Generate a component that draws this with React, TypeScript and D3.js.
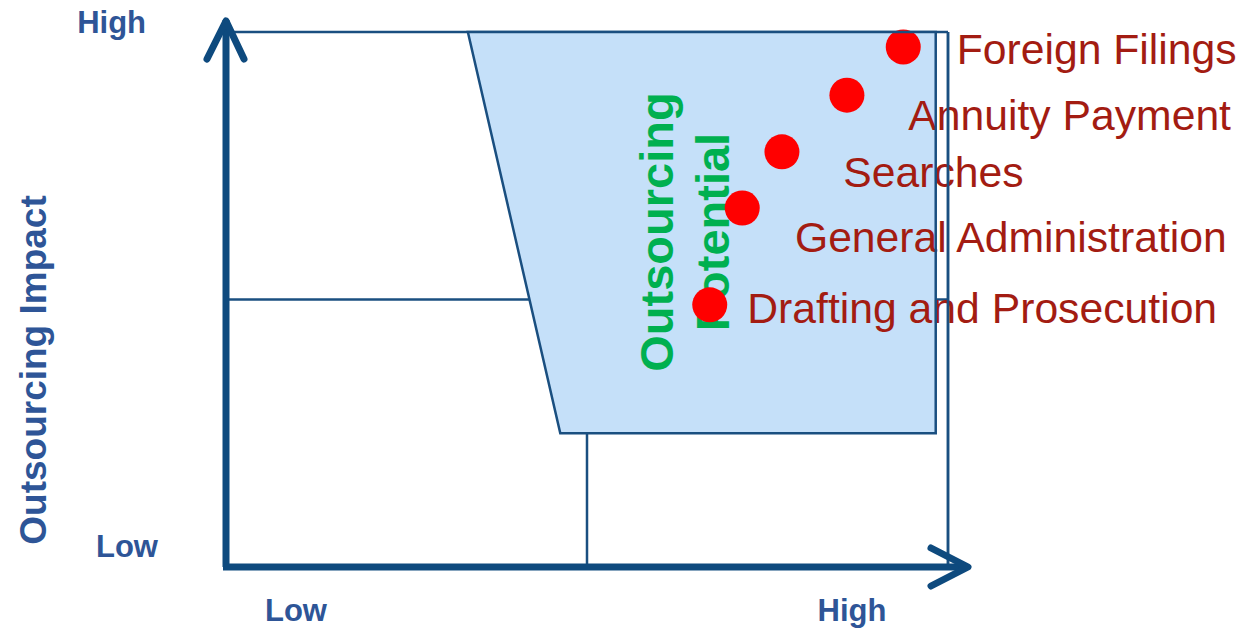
import React from "react";
import * as d3 from "d3";

// activities plotted on the matrix (x = outsourcing potential, y = impact, 0..10)
const tasks = ["Foreign Filings", "Annuity Payment", "Searches", "General Administration", "Drafting and Prosecution"];
const potential = [9.38, 8.6, 7.7, 7.15, 6.7];
const impact = [9.72, 8.82, 7.76, 6.71, 4.9];
// where each label starts (same units)
const labelX = [10.12, 9.45, 8.55, 7.88, 7.22];
const labelY = [9.4, 8.17, 7.1, 5.89, 4.56];
// shaded outsourcing zone corners
const zoneX = [3.35, 9.83, 9.83, 4.63];
const zoneY = [10, 10, 2.5, 2.5];
const levels = ["Low", "High"];
const zoneTitle = ["Outsourcing", "Potential"];

const W = 1245;
const H = 628;

const App = () => {
    const svgRef = React.useRef<SVGSVGElement>(null);

    React.useEffect(() => {
        drawChart();
    }, []);

    const drawChart = () => {
        if (!svgRef.current) return;

        const x = d3.scaleLinear().domain([0, 10]).range([226, 948]);
        const y = d3.scaleLinear().domain([0, 10]).range([567, 32]);

        const axisColor = "#0e4a7e";
        const lineColor = "#1a4f80";
        const labelColor = "#2e5597";
        const red = "#ff0000";
        const redText = "#a31c12";
        const green = "#00b050";
        const font = "'Liberation Sans', Arial, sans-serif";

        const svg = d3.select(svgRef.current);
        svg.selectAll("*").remove();

        // frame + quadrant lines
        const grid = svg.append("g").attr("fill", "none").attr("stroke", lineColor).attr("stroke-width", 2.5);
        grid.append("line").attr("x1", x(0)).attr("x2", x(10)).attr("y1", y(10)).attr("y2", y(10));
        grid.append("line").attr("x1", x(10)).attr("x2", x(10)).attr("y1", y(10)).attr("y2", y(0));
        grid.append("line").attr("x1", x(0)).attr("x2", x(10)).attr("y1", y(5)).attr("y2", y(5));
        grid.append("line").attr("x1", x(5)).attr("x2", x(5)).attr("y1", y(10)).attr("y2", y(0));

        // shaded zone
        const zone = zoneX.map((v, i) => [x(v), y(zoneY[i])] as [number, number]);
        const zonePath = d3.line()(zone) + "Z";
        svg.append("path").attr("d", zonePath).attr("fill", "#c5e0f9");

        // green zone title, rotated
        const title = svg.append("text")
            .attr("transform", `translate(${x(6.19)}, ${y(6.26)}) rotate(-90)`)
            .attr("text-anchor", "middle")
            .style("font", `bold 47px ${font}`)
            .attr("fill", green);
        zoneTitle.forEach((t, i) => {
            title.append("tspan").attr("x", 0).attr("y", i * 56).text(t);
        });

        // dots
        svg.append("g")
            .selectAll("circle")
            .data(tasks)
            .join("circle")
            .attr("cx", (_d, i) => x(potential[i]))
            .attr("cy", (_d, i) => y(impact[i]))
            .attr("r", 17.5)
            .attr("fill", red);

        // labels
        svg.append("g")
            .selectAll("text")
            .data(tasks)
            .join("text")
            .attr("x", (_d, i) => x(labelX[i]))
            .attr("y", (_d, i) => y(labelY[i]))
            .style("font", `42.7px ${font}`)
            .attr("fill", redText)
            .text(d => d);

        // outlines on top
        svg.append("path").attr("d", zonePath).attr("fill", "none").attr("stroke", lineColor).attr("stroke-width", 2.5);
        svg.append("line").attr("x1", x(10)).attr("x2", x(10)).attr("y1", y(10)).attr("y2", y(0))
            .attr("stroke", lineColor).attr("stroke-width", 2.5);

        // axes with arrowheads
        const ax = svg.append("g")
            .attr("fill", "none")
            .attr("stroke", axisColor)
            .attr("stroke-width", 7)
            .attr("stroke-linecap", "round")
            .attr("stroke-linejoin", "round");
        ax.append("path").attr("d", `M${x(0)},${y(0)} V20`).attr("stroke-linecap", "butt");
        ax.append("path").attr("d", `M207,59 L${x(0)},21 L244,59`);
        ax.append("path").attr("d", `M${x(0) - 3},${y(0)} H968`).attr("stroke-linecap", "butt");
        ax.append("path").attr("d", `M931,548 L968,${y(0)} L931,586`);

        // level labels
        const lv = svg.append("g").style("font", `bold 31px ${font}`).attr("fill", labelColor);
        lv.append("text").attr("x", 146).attr("y", 33).attr("text-anchor", "end").text(levels[1]);
        lv.append("text").attr("x", 158).attr("y", 557).attr("text-anchor", "end").text(levels[0]);
        lv.append("text").attr("x", 296).attr("y", 621).attr("text-anchor", "middle").text(levels[0]);
        lv.append("text").attr("x", 852).attr("y", 621).attr("text-anchor", "middle").text(levels[1]);

        // y axis title
        svg.append("text")
            .attr("transform", `translate(46, 370) rotate(-90)`)
            .attr("text-anchor", "middle")
            .style("font", `bold 37px ${font}`)
            .attr("fill", labelColor)
            .text("Outsourcing Impact");
    };

    return (
        <svg ref={svgRef} width={W} height={H}
            style={{ position: "absolute", left: 0, top: 0, background: "#fff" }} />
    );
};

export default App;
